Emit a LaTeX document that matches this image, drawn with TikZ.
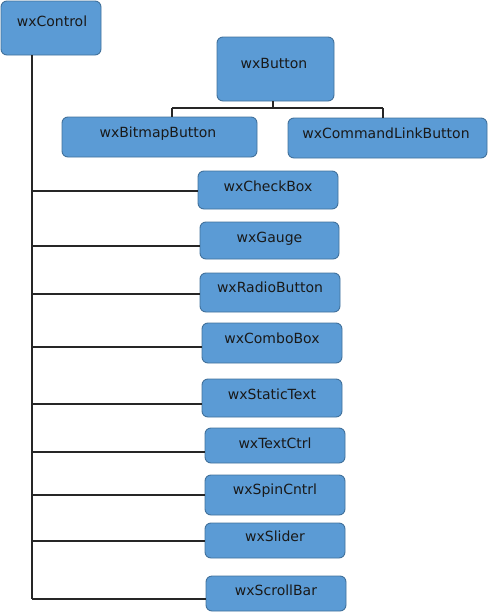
\documentclass[tikz,border=0pt]{standalone}
\usepackage{fontspec}
\setmainfont{DejaVu Sans}
\definecolor{boxfill}{HTML}{5B9BD5}
\definecolor{boxline}{HTML}{41719C}
\definecolor{conn}{HTML}{262626}
\begin{document}
\begin{tikzpicture}[x=1pt,y=-1pt,
  box/.style={draw=boxline,fill=boxfill,line width=0.9pt,rounded corners=6pt,inner sep=0pt,outer sep=0pt},
  lbl/.style={anchor=base,inner sep=0pt,font=\fontsize{14}{16}\selectfont,text=black!90},
  wire/.style={draw=conn,line width=1.2pt}]
\useasboundingbox (0,0) rectangle (489,613);
% boxes
\node[box,minimum width=100pt,minimum height=54pt] (ctrl) at (51,28) {};
\node[box,minimum width=117pt,minimum height=64pt] (button) at (275.5,69) {};
\node[box,minimum width=195pt,minimum height=40pt] (bitmap) at (159.5,137) {};
\node[box,minimum width=199pt,minimum height=40pt] (cmd) at (387.5,138) {};
\node[box,minimum width=140pt,minimum height=38pt] (check) at (268,190) {};
\node[box,minimum width=139pt,minimum height=37pt] (gauge) at (269.5,240.5) {};
\node[box,minimum width=140pt,minimum height=39pt] (radio) at (270,292.5) {};
\node[box,minimum width=140pt,minimum height=40pt] (combo) at (272,343) {};
\node[box,minimum width=140pt,minimum height=38pt] (static) at (272,398) {};
\node[box,minimum width=140pt,minimum height=35pt] (text) at (275,445.5) {};
\node[box,minimum width=140pt,minimum height=40pt] (spin) at (275,495) {};
\node[box,minimum width=140pt,minimum height=35pt] (slider) at (275,540.5) {};
\node[box,minimum width=140pt,minimum height=35pt] (scroll) at (276,593.5) {};
% labels
\node[lbl] (ctrlT) at (52,27) {wxControl};
\node[lbl] (buttonT) at (274,68) {wxButton};
\node[lbl] (bitmapT) at (158,137) {wxBitmapButton};
\node[lbl] (cmdT) at (386,138) {wxCommandLinkButton};
\node[lbl] (checkT) at (268,191) {wxCheckBox};
\node[lbl] (gaugeT) at (269.5,242) {wxGauge};
\node[lbl] (radioT) at (270,292) {wxRadioButton};
\node[lbl] (comboT) at (272,343) {wxComboBox};
\node[lbl] (staticT) at (272,399) {wxStaticText};
\node[lbl] (textT) at (275,448) {wxTextCtrl};
\node[lbl] (spinT) at (275,494) {wxSpinCntrl};
\node[lbl] (sliderT) at (275,541) {wxSlider};
\node[lbl] (scrollT) at (276,595) {wxScrollBar};
% wxButton connectors
\coordinate (bj) at (273,108);
\coordinate (bl) at (172,108);
\coordinate (br) at (383,108);
\draw[wire] (button.south -| bj) -- (bj);
\draw[wire] (bl) -- (br);
\draw[wire] (bl) -- (bl |- bitmap.north);
\draw[wire] (br) -- (br |- cmd.north);
% trunk
\coordinate (ttop) at (32,55);
\coordinate (tcheck) at (32,191);
\coordinate (tgauge) at (32,246);
\coordinate (tradio) at (32,294);
\coordinate (tcombo) at (32,347);
\coordinate (tstatic) at (32,404);
\coordinate (ttext) at (32,452);
\coordinate (tspin) at (32,495);
\coordinate (tslider) at (32,541);
\coordinate (tscroll) at (32,599);
\draw[wire] (ttop) -- (tscroll);
\foreach \n in {check,gauge,radio,combo,static,text,spin,slider,scroll}
  \draw[wire] (t\n) -- (t\n -| \n.west);
\end{tikzpicture}
\end{document}
